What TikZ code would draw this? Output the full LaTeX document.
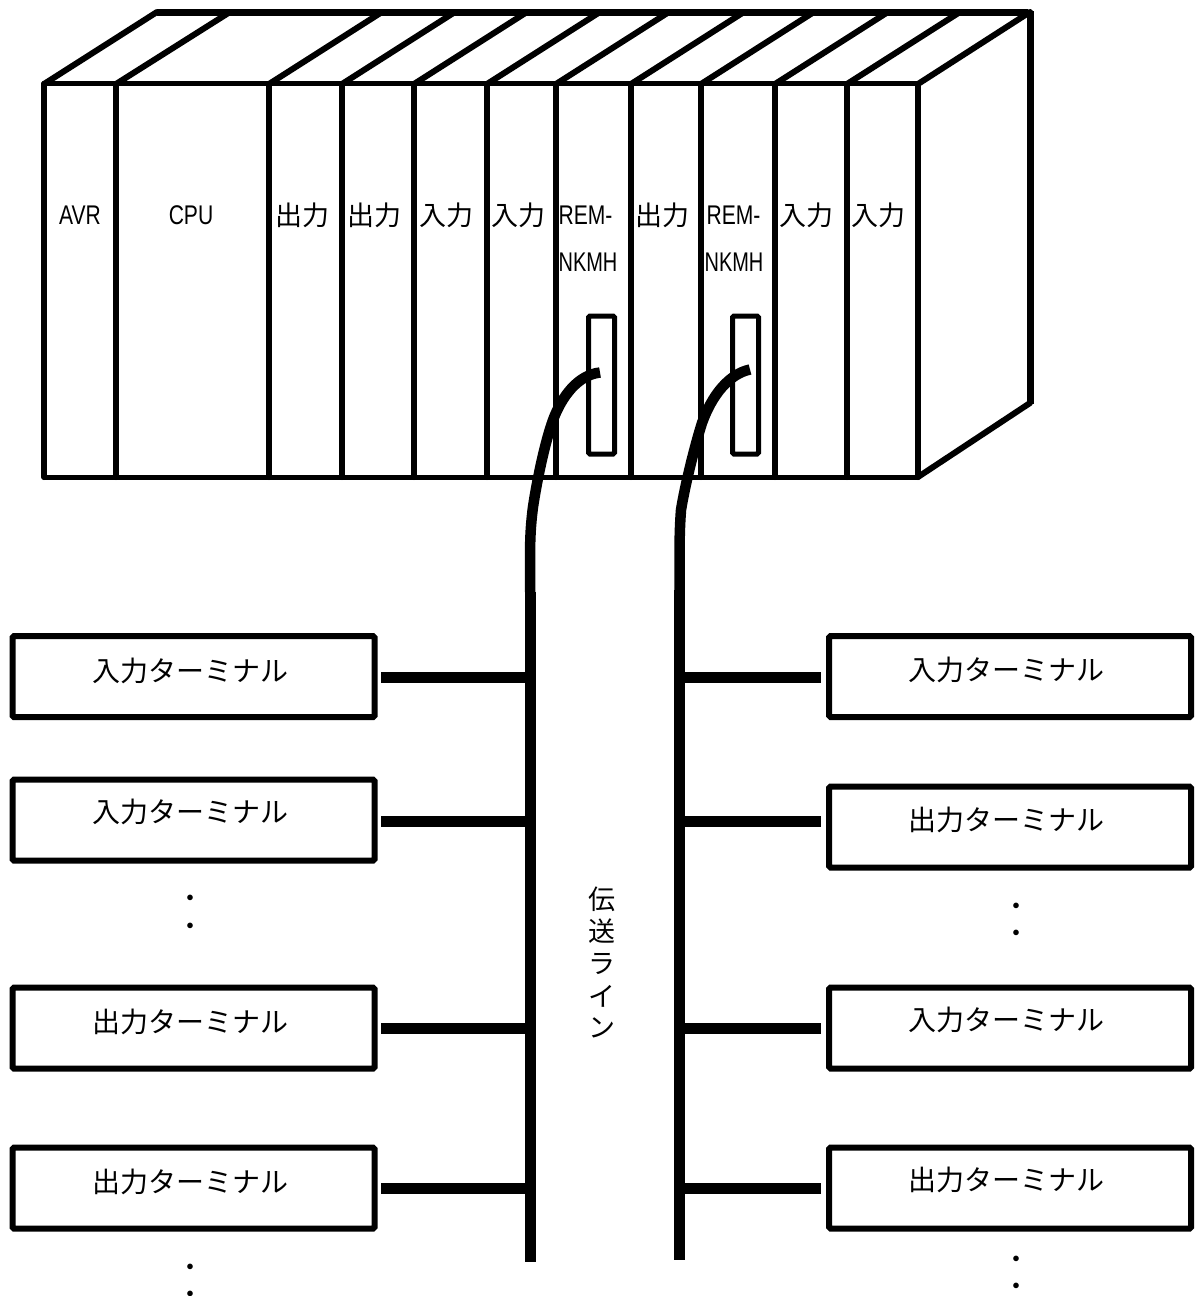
\documentclass[tikz,border=0pt]{standalone}
\usepackage{fontspec}
\setmainfont{Liberation Sans}
\newfontfamily\cjk{Noto Sans CJK JP}
\newcommand{\jp}{\cjk\fontsize{27}{27}\selectfont}
\newcommand{\jpb}{\cjk\fontsize{28}{28}\selectfont}
\newcommand{\jpdot}{\cjk\bfseries\fontsize{20}{20}\selectfont}
\newcommand{\lat}[1]{\scalebox{0.78}[1]{\fontsize{27}{27}\selectfont #1}}
\newcommand{\latn}[1]{\scalebox{0.74}[1]{\fontsize{27}{27}\selectfont #1}}
\tikzset{
  rackh/.style={line width=5pt,line join=round,line cap=round},
  rackv/.style={line width=6pt,line join=round,line cap=round},
  heavyline/.style={line width=7pt},
  slotbox/.style={draw,line width=5pt,rounded corners=1.5pt,minimum width=26pt,minimum height=138pt,inner sep=0pt},
  termbox/.style={draw,line width=6pt,rounded corners=1.5pt,minimum width=362pt,minimum height=81pt,inner sep=0pt},
  cable/.style={line width=10.5pt,line join=round},
  busline/.style={line width=11pt},
  stub/.style={line width=11pt},
  jptext/.style={font=\jp,inner sep=0pt},
  termtext/.style={font=\jpb,inner sep=0pt},
  dottext/.style={font=\jpdot,inner sep=0pt},
  modtext/.style={inner sep=0pt},
}
\begin{document}
\begin{tikzpicture}[x=1pt,y=-1pt]
\useasboundingbox (0,0) rectangle (1196,1296);
% top face diagonals
\foreach \xx/\tx in {44/157,116/230,269/382,342/455,414/527,487/600,556/669,631/744,701/814,775/888,847/960,918/1030}
  \draw[rackv] (\xx,84) -- (\tx,12);
% rack front
\draw[rackh] (44,83.5) -- (918,83.5);
\draw[rackh] (44,477) -- (918,477);
\foreach \xx in {44,116,269,342,414,487,556,631,701,775,847,918}
  \draw[rackv] (\xx,84) -- (\xx,477);
\draw[rackv] (918,477) -- (1030,403);
\draw[heavyline] (157,12.5) -- (1028,12.5);
\draw[heavyline] (1030,11) -- (1030,404);
% module labels
\node[modtext] (mAVR) at (80,215) {\lat{AVR}};
\node[modtext] (mCPU) at (191,215) {\lat{CPU}};
\node[jptext] (m1) at (302,215) {出力};
\node[jptext] (m2) at (374,215) {出力};
\node[jptext] (m3) at (446,215) {入力};
\node[jptext] (m4) at (518,215) {入力};
\node[modtext] (m5a) at (585.5,215) {\lat{REM-}};
\node[modtext] (m5b) at (588,262) {\latn{NKMH}};
\node[jptext] (m6) at (662,215) {出力};
\node[modtext] (m7a) at (733.5,215) {\lat{REM-}};
\node[modtext] (m7b) at (734,262) {\latn{NKMH}};
\node[jptext] (m8) at (806,215) {入力};
\node[jptext] (m9) at (878,215) {入力};
% slots
\node[slotbox] (slotA) at (601.5,385) {};
\node[slotbox] (slotB) at (745.5,385) {};
% free ends of the bus lines
\coordinate (busAtop) at (530,592);
\coordinate (busAend) at (530,1262);
\coordinate (busBtop) at (679.5,590);
\coordinate (busBend) at (679.5,1260);
\coordinate (cabA) at (600,372.5);
\coordinate (cabB) at (750,369.5);
% cables
\draw[cable] (cabA) .. controls (578,375) and (562,396) .. (553,420)
  .. controls (545,442) and (537,480) .. (533,507)
  .. controls (530,530) and (530,545) .. (530,570) -- (busAtop);
\draw[cable] (cabB) .. controls (729,374) and (712,395) .. (702,423)
  .. controls (695,445) and (685,485) .. (681,510)
  .. controls (679.5,530) and (679.5,545) .. (679.5,570) -- (busBtop);
% buses
\draw[busline] (busAtop) -- (busAend);
\draw[busline] (busBtop) -- (busBend);
% terminals left
\node[termbox,label={[termtext,xshift=-3.5pt,yshift=6pt]center:入力ターミナル}] (L1) at (193.5,676.5) {};
\node[termbox,label={[termtext,xshift=-3.5pt,yshift=8pt]center:入力ターミナル}] (L2) at (193.5,820) {};
\node[termbox,label={[termtext,xshift=-3.5pt,yshift=6pt]center:出力ターミナル}] (L3) at (193.5,1028) {};
\node[termbox,label={[termtext,xshift=-3.5pt,yshift=6pt]center:出力ターミナル}] (L4) at (193.5,1188) {};
% terminals right
\node[termbox,label={[termtext,xshift=-4pt,yshift=7pt]center:入力ターミナル}] (R1) at (1010,676.5) {};
\node[termbox,label={[termtext,xshift=-4pt,yshift=7pt]center:出力ターミナル}] (R2) at (1010,827) {};
\node[termbox,label={[termtext,xshift=-4pt,yshift=8pt]center:入力ターミナル}] (R3) at (1010,1028) {};
\node[termbox,label={[termtext,xshift=-4pt,yshift=8pt]center:出力ターミナル}] (R4) at (1010,1188) {};
% stubs
\foreach \n/\yy in {1/677,2/821,3/1028,4/1188}{
  \coordinate (tapL\n) at (530,\yy);
  \coordinate (tapR\n) at (680,\yy);
  \draw[stub,shorten >=3.5pt] (tapL\n) -- (tapL\n -| L\n.east);
  \draw[stub,shorten >=5pt] (tapR\n) -- (tapR\n -| R\n.west);
}
% dots
\node[dottext] (dL1) at (190,900.3) {・};
\node[dottext] (dL2) at (190,928.3) {・};
\node[dottext] (dL3) at (190,1269.3) {・};
\node[dottext] (dL4) at (190,1296.3) {・};
\node[dottext] (dR1) at (1016,908.3) {・};
\node[dottext] (dR2) at (1016,935.3) {・};
\node[dottext] (dR3) at (1016,1261.3) {・};
\node[dottext] (dR4) at (1016,1288.3) {・};
% bus label
\node[jptext] (busname) at (602,899) {伝};
\node[jptext] (busb) at (602,931) {送};
\node[jptext] (busc) at (602,964) {ラ};
\node[jptext] (busd) at (602,996) {イ};
\node[jptext] (buse) at (602,1028) {ン};
\end{tikzpicture}
\end{document}
